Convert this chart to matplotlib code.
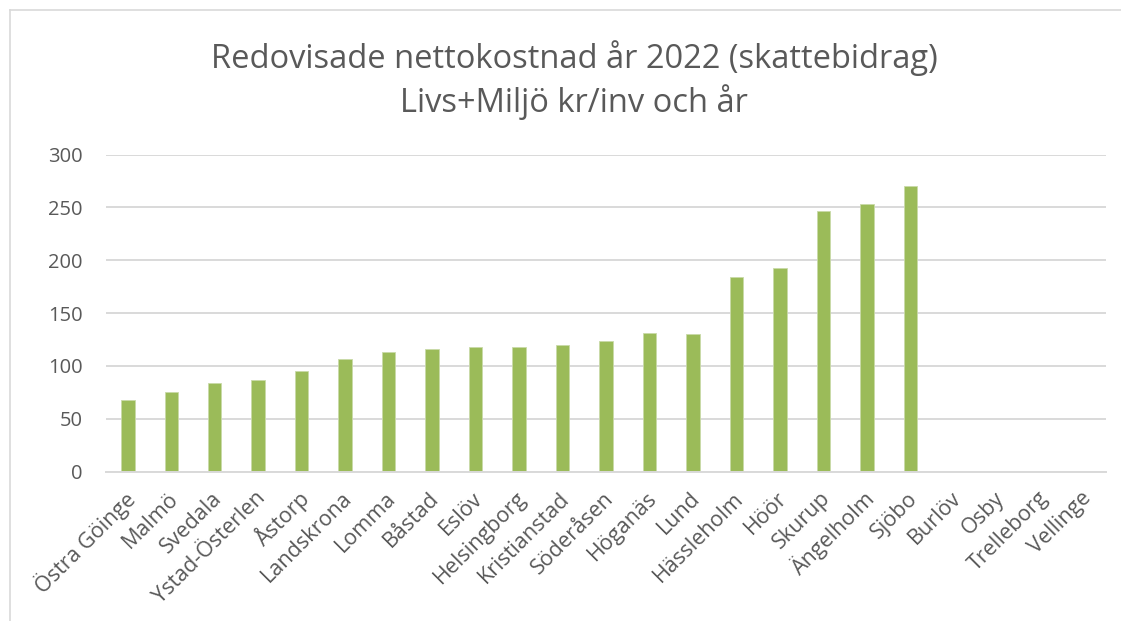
import matplotlib
matplotlib.use('Agg')
import matplotlib.pyplot as plt
import numpy as np
from matplotlib.lines import Line2D

plt.rcParams['font.family'] = ['Open Sans', 'DejaVu Sans']

kommuner = ['Östra Göinge', 'Malmö', 'Svedala', 'Ystad-Österlen', 'Åstorp',
            'Landskrona', 'Lomma', 'Båstad', 'Eslöv', 'Helsingborg',
            'Kristianstad', 'Söderåsen', 'Höganäs', 'Lund', 'Hässleholm',
            'Höör', 'Skurup', 'Ängelholm', 'Sjöbo', 'Burlöv', 'Osby',
            'Trelleborg', 'Vellinge']
kostnad = [68, 75, 84, 86.5, 95, 107, 113, 116, 118, 117.5,
           120, 124, 131, 130.5, 184.5, 192.5, 247, 253, 270.5, 0, 0, 0, 0]
yticks = [0, 50, 100, 150, 200, 250, 300]

grey_text = '#595959'
grid_col = '#D9D9D9'

fig = plt.figure(figsize=(11.21, 6.21), dpi=100)
ax = fig.add_axes([0.0946, 0.2404, 0.892, 0.5108])

x = np.arange(len(kommuner))
ax.bar(x, kostnad, width=0.31, color='#9BBB59', edgecolor='#C9DAA8',
       linewidth=0.6, zorder=3)

ax.set_xlim(-0.5, len(kommuner) - 0.5)
ax.set_ylim(0, 300)
ax.set_yticks(yticks)
ax.set_yticklabels([str(v) for v in yticks])
ax.yaxis.grid(True, color=grid_col, linewidth=1.4, zorder=0)
for s in ['top', 'right', 'left']:
    ax.spines[s].set_visible(False)
ax.spines['bottom'].set_color(grid_col)
ax.spines['bottom'].set_linewidth(1.4)
ax.spines['bottom'].set_zorder(4)

ax.tick_params(axis='y', length=0, pad=17, labelsize=14.5, labelcolor=grey_text)
ax.tick_params(axis='x', length=0, pad=17, labelsize=15.5, labelcolor=grey_text)
ax.set_xticks(x)
ax.set_xticklabels(kommuner, rotation=45, ha='right', va='center',
                   rotation_mode='anchor')
# nudge labels a little to the right, like the original
from matplotlib.transforms import ScaledTranslation
for lbl in ax.get_xticklabels():
    lbl.set_transform(lbl.get_transform() + ScaledTranslation(3 / 72, 0, fig.dpi_scale_trans))

fig.text(0.512, 0.906, 'Redovisade nettokostnad år 2022 (skattebidrag)',
         ha='center', va='center', fontsize=23.5, color=grey_text)
fig.text(0.512, 0.836, 'Livs+Miljö kr/inv och år',
         ha='center', va='center', fontsize=23.5, color=grey_text)

# chart frame
fig.add_artist(Line2D([10 / 1121, 10 / 1121], [0, 1 - 10 / 621],
                      transform=fig.transFigure, color=grid_col, lw=1.2))
fig.add_artist(Line2D([10 / 1121, 1], [1 - 10 / 621, 1 - 10 / 621],
                      transform=fig.transFigure, color=grid_col, lw=1.2))

fig.savefig('out.png', dpi=100)
